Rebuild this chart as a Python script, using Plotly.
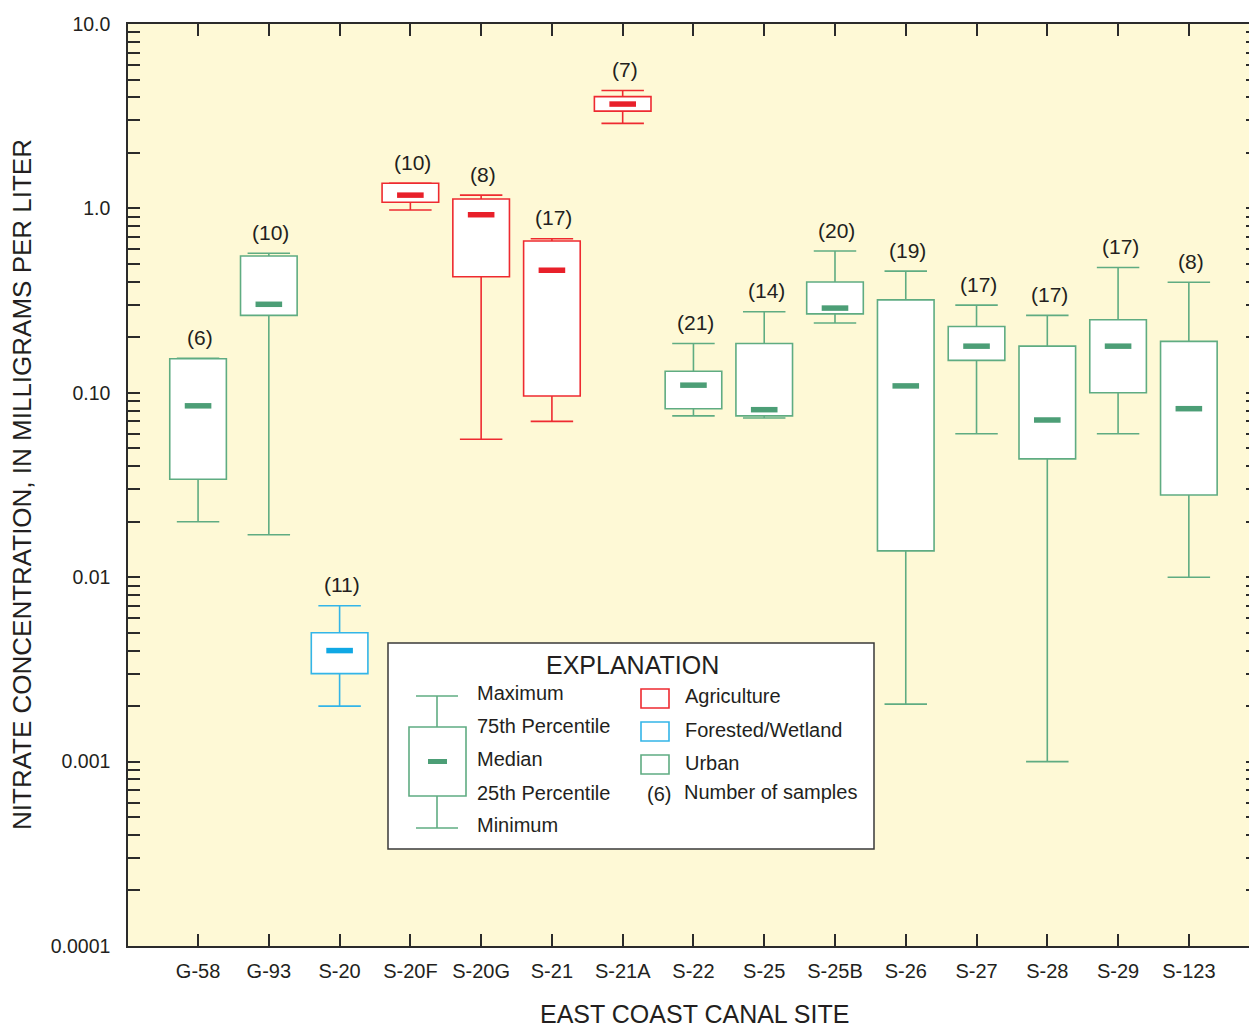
import numpy as np
import plotly.graph_objects as go

# ---- nitrate concentrations (mg/L) by East Coast canal site ----
sites = ["G-58", "G-93", "S-20", "S-20F", "S-20G", "S-21", "S-21A", "S-22",
         "S-25", "S-25B", "S-26", "S-27", "S-28", "S-29", "S-123"]
land_use = ["Urban", "Urban", "Forested/Wetland", "Agriculture", "Agriculture",
            "Agriculture", "Agriculture", "Urban", "Urban", "Urban", "Urban",
            "Urban", "Urban", "Urban", "Urban"]
n_samples = [6, 10, 11, 10, 8, 17, 7, 21, 14, 20, 19, 17, 17, 17, 8]
minimum = [0.020, 0.017, 0.0020, 0.98, 0.056, 0.070, 2.89, 0.075, 0.073,
           0.239, 0.00205, 0.060, 0.0010, 0.060, 0.0100]
p25 = [0.034, 0.263, 0.0030, 1.08, 0.426, 0.096, 3.37, 0.082, 0.075,
       0.268, 0.0139, 0.150, 0.0438, 0.100, 0.0279]
median = [0.085, 0.302, 0.0040, 1.18, 0.924, 0.462, 3.68, 0.110, 0.081,
          0.288, 0.109, 0.179, 0.0712, 0.179, 0.082]
p75 = [0.153, 0.552, 0.0050, 1.37, 1.125, 0.666, 4.04, 0.131, 0.185,
       0.399, 0.319, 0.229, 0.179, 0.249, 0.190]
maximum = [0.154, 0.571, 0.0070, 1.37, 1.18, 0.685, 4.36, 0.185, 0.275,
           0.587, 0.457, 0.299, 0.263, 0.478, 0.398]

# y-axis ticks: labelled decades plus unlabelled 2..9 minor ticks
decade_values = [0.0001, 0.001, 0.01, 0.1, 1.0, 10.0]
decade_labels = ["0.0001", "0.001", "0.01", "0.10", "1.0", "10.0"]

# ---- styling ----
FONT = "Liberation Sans, Arial, Helvetica, sans-serif"
TEXT = "#231F20"
AXIS = "#2b2b2b"
BG = "#FEF9D6"
stroke = {"Agriculture": "#EE2A30", "Forested/Wetland": "#33B5E8", "Urban": "#5FAC82"}
dash = {"Agriculture": "#E8202A", "Forested/Wetland": "#10A8E4", "Urban": "#4C9E76"}

BOX_W = 0.8      # box width in category units
CAP_HALF = 0.30  # half width of whisker caps
W, H = 1249, 1028
L, R, T, B = 128, 0, 24, 82
PW, PH = W - L - R, H - T - B

x_pos = list(range(len(sites)))

fig = go.Figure()

# boxes: interquartile range as floating bars
fig.add_trace(go.Bar(
    x=x_pos,
    base=p25,
    y=[hi - lo for hi, lo in zip(p75, p25)],
    width=BOX_W,
    marker=dict(color="white",
                line=dict(color=[stroke[u] for u in land_use], width=1.6)),
    hoverinfo="skip",
    showlegend=False,
))

# whiskers and caps, one trace per land-use class
for use in stroke:
    xs, ys = [], []
    for i, u in enumerate(land_use):
        if u != use:
            continue
        xs += [i, i, None, i, i, None,
               i - CAP_HALF, i + CAP_HALF, None, i - CAP_HALF, i + CAP_HALF, None]
        ys += [p75[i], maximum[i], None, p25[i], minimum[i], None,
               maximum[i], maximum[i], None, minimum[i], minimum[i], None]
    fig.add_trace(go.Scatter(x=xs, y=ys, mode="lines",
                             line=dict(color=stroke[use], width=1.6),
                             hoverinfo="skip", showlegend=False))

# medians as short thick dashes
fig.add_trace(go.Scatter(
    x=x_pos, y=median, mode="markers",
    marker=dict(symbol="line-ew", size=19,
                line=dict(color=[dash[u] for u in land_use], width=5.5)),
    hoverinfo="skip", showlegend=False,
))

# number of samples above each maximum
for i, n in enumerate(n_samples):
    fig.add_annotation(x=i, y=np.log10(maximum[i]), xref="x", yref="y",
                       text=f"({n})", showarrow=False, yanchor="middle",
                       yshift=21, xshift=2,
                       font=dict(family=FONT, size=21, color=TEXT))

# all y tick positions
y_ticks, y_text = [], []
for k, d in enumerate(decade_values):
    y_ticks.append(d)
    y_text.append(decade_labels[k])
    if d < 10:
        for m in range(2, 10):
            y_ticks.append(d * m)
            y_text.append("")


def px_x(px):
    return (px - L) / PW


def px_y(py):
    return (H - B - py) / PH


# ---- explanation box ----
shapes = []
shapes.append(dict(type="rect", xref="paper", yref="paper",
                   x0=px_x(388), x1=px_x(874), y0=px_y(849), y1=px_y(643),
                   fillcolor="white", line=dict(color="#3a3a3a", width=1.5),
                   layer="above"))
g = stroke["Urban"]
for x0, x1, y0, y1 in [(437, 437, 696, 727), (437, 437, 796, 828),
                       (416, 458, 696, 696), (416, 458, 828, 828)]:
    shapes.append(dict(type="line", xref="paper", yref="paper",
                       x0=px_x(x0), x1=px_x(x1), y0=px_y(y0), y1=px_y(y1),
                       line=dict(color=g, width=1.6), layer="above"))
shapes.append(dict(type="rect", xref="paper", yref="paper",
                   x0=px_x(409), x1=px_x(466), y0=px_y(796), y1=px_y(727),
                   fillcolor="white", line=dict(color=g, width=1.6), layer="above"))
shapes.append(dict(type="rect", xref="paper", yref="paper",
                   x0=px_x(428), x1=px_x(447), y0=px_y(764), y1=px_y(759),
                   fillcolor=dash["Urban"], line=dict(width=0), layer="above"))
for use, (y0, y1) in zip(["Agriculture", "Forested/Wetland", "Urban"],
                         [(689, 708), (722, 741), (755, 774)]):
    shapes.append(dict(type="rect", xref="paper", yref="paper",
                       x0=px_x(641), x1=px_x(669), y0=px_y(y1), y1=px_y(y0),
                       fillcolor="white", line=dict(color=stroke[use], width=1.6),
                       layer="above"))

legend_text = [
    ("EXPLANATION", 632, 665, "center", 25),
    ("Maximum", 475, 693, "left", 20),
    ("75th Percentile", 475, 726, "left", 20),
    ("Median", 475, 759, "left", 20),
    ("25th Percentile", 475, 793, "left", 20),
    ("Minimum", 475, 825, "left", 20),
    ("Agriculture", 683, 696, "left", 20),
    ("Forested/Wetland", 683, 730, "left", 20),
    ("Urban", 683, 763, "left", 20),
    ("(6)", 659, 794, "center", 20),
    ("Number of samples", 682, 792, "left", 20),
]
for txt, x, y, anchor, size in legend_text:
    fig.add_annotation(x=px_x(x), y=px_y(y), xref="paper", yref="paper",
                       text=txt, showarrow=False, xanchor=anchor, yanchor="middle",
                       font=dict(family=FONT, size=size, color=TEXT))

# axis titles
fig.add_annotation(x=px_x(22), y=px_y(485), xref="paper", yref="paper",
                   text="NITRATE CONCENTRATION, IN MILLIGRAMS PER LITER",
                   textangle=-90, showarrow=False, xanchor="center", yanchor="middle",
                   font=dict(family=FONT, size=26, color=TEXT))
fig.add_annotation(x=px_x(694), y=px_y(1014), xref="paper", yref="paper",
                   text="EAST COAST CANAL SITE", showarrow=False,
                   xanchor="center", yanchor="middle",
                   font=dict(family=FONT, size=25, color=TEXT))

axis_common = dict(ticks="inside", ticklen=12, tickwidth=1.5, tickcolor=AXIS,
                   showgrid=False, zeroline=False)

fig.update_layout(
    width=W, height=H,
    margin=dict(l=L, r=R, t=T, b=B, pad=0),
    paper_bgcolor="white",
    plot_bgcolor=BG,
    barmode="overlay",
    showlegend=False,
    shapes=shapes,
    font=dict(family=FONT, color=TEXT),
    xaxis=dict(
        range=[-0.99, 14.85],
        tickmode="array", tickvals=x_pos, ticktext=sites,
        showline=True, linecolor=AXIS, linewidth=1.5, mirror="ticks",
        ticklabelstandoff=6,
        tickfont=dict(family=FONT, size=20, color=TEXT),
        **axis_common,
    ),
    yaxis=dict(
        type="log", range=[-4, 1],
        tickmode="array", tickvals=y_ticks, ticktext=y_text,
        showline=True, linecolor=AXIS, linewidth=1.5, mirror=False,
        ticklabelstandoff=12,
        tickfont=dict(family=FONT, size=19.5, color=TEXT),
        **axis_common,
    ),
    # right-hand ticks only, the frame runs off the page edge
    yaxis2=dict(
        type="log", range=[-4, 1], overlaying="y", side="right",
        tickmode="array", tickvals=y_ticks, showticklabels=False,
        showline=False, ticks="inside", ticklen=3, tickwidth=1.5,
        tickcolor=AXIS, showgrid=False, zeroline=False,
    ),
)

# invisible trace so the right-hand axis is drawn
fig.add_trace(go.Scatter(x=[x_pos[0]], y=[median[0]], yaxis="y2", mode="markers",
                         marker=dict(opacity=0), hoverinfo="skip", showlegend=False))

fig.write_html("out.html")
